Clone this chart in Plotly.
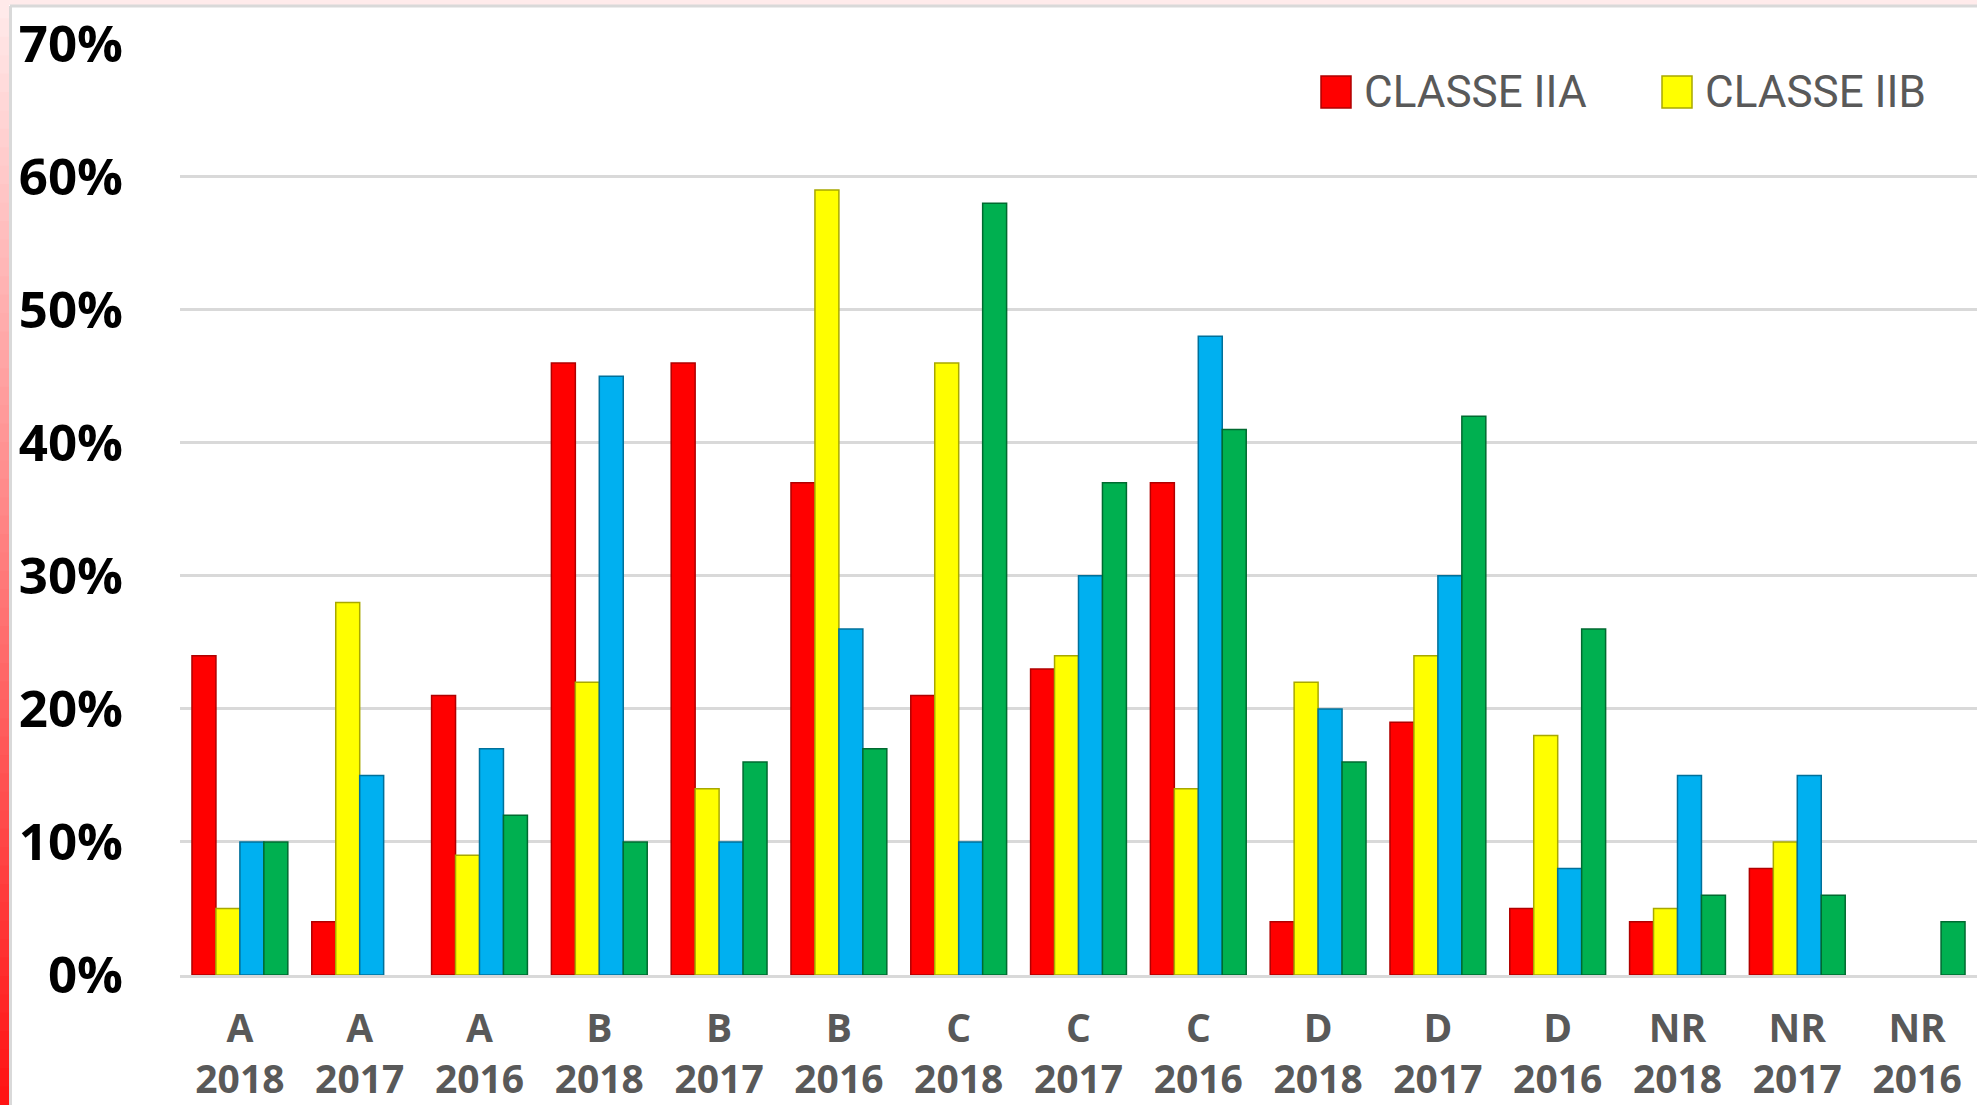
import plotly.graph_objects as go

categories = [
    "A<br>2018", "A<br>2017", "A<br>2016",
    "B<br>2018", "B<br>2017", "B<br>2016",
    "C<br>2018", "C<br>2017", "C<br>2016",
    "D<br>2018", "D<br>2017", "D<br>2016",
    "NR<br>2018", "NR<br>2017", "NR<br>2016",
]

classe_iia = [0.24, 0.04, 0.21, 0.46, 0.46, 0.37, 0.21, 0.23, 0.37, 0.04, 0.19, 0.05, 0.04, 0.08, 0.0]
classe_iib = [0.05, 0.28, 0.09, 0.22, 0.14, 0.59, 0.46, 0.24, 0.14, 0.22, 0.24, 0.18, 0.05, 0.10, 0.0]
classe_iii = [0.10, 0.15, 0.17, 0.45, 0.10, 0.26, 0.10, 0.30, 0.48, 0.20, 0.30, 0.08, 0.15, 0.15, 0.0]
classe_i = [0.10, 0.0, 0.12, 0.10, 0.16, 0.17, 0.58, 0.37, 0.41, 0.16, 0.42, 0.26, 0.06, 0.06, 0.04]

series = [
    ("CLASSE IIA", classe_iia, "#FF0000", "#B00000"),
    ("CLASSE IIB", classe_iib, "#FFFF00", "#A8A800"),
    ("CLASSE III", classe_iii, "#00B0F0", "#00709A"),
    ("CLASSE I", classe_i, "#00B050", "#006A30"),
]

W, H = 1977, 1105
L, R, T, B = 180, 0, 43, 130


def px(x):
    # pixel -> paper x
    return (x - L) / (W - L - R)


def py(y):
    # pixel -> paper y
    return (H - B - y) / (H - T - B)


fig = go.Figure()
for name, vals, color, edge in series:
    fig.add_trace(
        go.Bar(
            x=categories,
            y=vals,
            name=name,
            marker=dict(
                color=color,
                line=dict(color=edge, width=[1.5 if v > 0 else 0 for v in vals]),
            ),
            showlegend=False,
        )
    )

shapes = []

# decorative frame: pink top strip, red gradient strip on the left
shapes.append(dict(type="rect", xref="paper", yref="paper", x0=px(0), x1=px(W),
                   y0=py(0), y1=py(5), fillcolor="#FFEBEB", line_width=0, layer="below"))
n = 60
top_c, bot_c = (255, 234, 234), (255, 20, 20)
for i in range(n):
    f = i / (n - 1)
    c = tuple(int(top_c[k] + (bot_c[k] - top_c[k]) * f) for k in range(3))
    shapes.append(dict(type="rect", xref="paper", yref="paper",
                       x0=px(0), x1=px(9),
                       y0=py(H * i / n), y1=py(H * (i + 1) / n + 1),
                       fillcolor="rgb(%d,%d,%d)" % c, line_width=0, layer="below"))
shapes.append(dict(type="line", xref="paper", yref="paper", x0=px(10), x1=px(W),
                   y0=py(6), y1=py(6), line=dict(color="#D9D9D9", width=3)))
shapes.append(dict(type="line", xref="paper", yref="paper", x0=px(10.5), x1=px(10.5),
                   y0=py(6), y1=py(H), line=dict(color="#D9D9D9", width=3)))

# legend (only the first two entries are visible in the original)
annotations = []
legend_pos = [(1321, 1362), (1662, 1703)]
for (sx, tx), (name, _, color, edge) in zip(legend_pos, series[:2]):
    shapes.append(dict(type="rect", xref="paper", yref="paper",
                       x0=px(sx), x1=px(sx + 30), y0=py(108), y1=py(76),
                       fillcolor=color, line=dict(color=edge, width=1.5)))
    annotations.append(dict(xref="paper", yref="paper", x=px(tx), y=py(92),
                            xanchor="left", yanchor="middle", showarrow=False,
                            text=name,
                            font=dict(family="Roboto", size=44, color="#595959")))

fig.update_layout(
    width=W,
    height=H,
    margin=dict(l=L, r=R, t=T, b=B),
    paper_bgcolor="white",
    plot_bgcolor="white",
    barmode="group",
    bargap=0.2,
    bargroupgap=0,
    shapes=shapes,
    annotations=annotations,
    showlegend=False,
)
fig.update_yaxes(
    automargin=False,
    range=[0, 0.7005],
    dtick=0.1,
    tickformat=".0%",
    showgrid=True,
    gridcolor="#D9D9D9",
    gridwidth=3,
    zeroline=False,
    ticklabelstandoff=56,
    tickfont=dict(family="Open Sans", size=51, color="black", weight="bold"),
)
fig.update_xaxes(
    automargin=False,
    showline=True,
    linecolor="#D9D9D9",
    linewidth=3,
    ticklabelstandoff=17,
    tickfont=dict(family="Open Sans", size=39, color="#595959", weight="bold"),
)

fig.write_html(
    "out.html",
    config={"displayModeBar": False},
    post_script="document.body.style.margin='0px';",
)
